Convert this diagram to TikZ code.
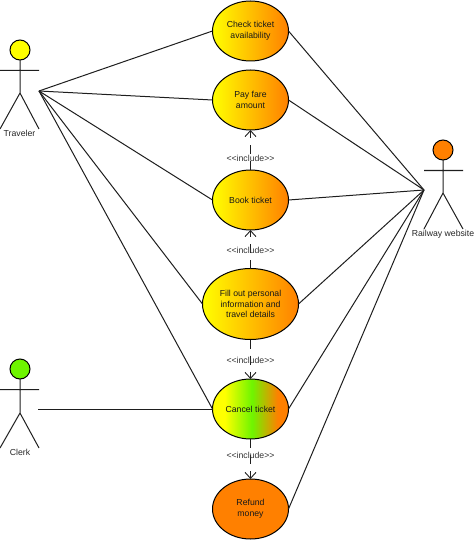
\documentclass[tikz,border=0pt]{standalone}
\usepackage{fontspec}
\setmainfont{Liberation Sans}
\usetikzlibrary{shapes.geometric,arrows.meta}
\definecolor{ucyellow}{RGB}{255,255,0}
\definecolor{ucorange}{RGB}{255,128,0}
\definecolor{ucgreen}{RGB}{110,245,0}
\definecolor{inkline}{RGB}{30,30,30}
\pgfdeclarehorizontalshading{cancelgrad}{100bp}{color(0bp)=(ucyellow); color(33bp)=(ucyellow); color(51bp)=(ucgreen); color(68bp)=(ucorange); color(100bp)=(ucorange)}
\tikzset{
  x=1pt,y=-1pt,
  usecase/.style={ellipse,draw=black,line width=1pt,inner sep=0pt,outer sep=0pt,minimum width=76pt,minimum height=60pt,
    font=\fontsize{8.7}{10.8}\selectfont,align=center,text=black!90},
  gradfill/.style={left color=ucyellow,right color=ucorange},
  head/.style={circle,draw=black,line width=1pt,minimum size=20pt,inner sep=0pt,outer sep=0pt},
  limb/.style={draw=inkline,line width=1pt},
  assoc/.style={draw=inkline,line width=1pt},
  incl/.style={draw=inkline,line width=0.9pt,dash pattern=on 9pt off 7pt,-{Straight Barb[length=6pt,width=11pt,line width=0.9pt]}},
  incltext/.style={font=\fontsize{8.7}{10}\selectfont,text=black!80,inner sep=0pt},
  actortext/.style={font=\fontsize{8.7}{10}\selectfont,text=black!85,inner sep=0pt,anchor=north},
}
\begin{document}
\begin{tikzpicture}
\useasboundingbox (0,0) rectangle (474,540);
% use cases
\node[usecase,gradfill] (check) at (250.5,31) {Check ticket\\availability};
\node[usecase,gradfill] (pay) at (250.5,100) {Pay fare\\amount};
\node[usecase,gradfill] (book) at (250.5,200) {Book ticket};
\node[usecase,gradfill,minimum width=96pt,minimum height=71pt] (fill) at (250.5,304) {Fill out personal\\information and\\travel details};
\node[usecase,shading=cancelgrad,shading angle=0] (cancel) at (250.5,409) {Cancel ticket};
\node[usecase,fill=ucorange] (refund) at (250.5,509) {Refund\\money};
% actors
\node[head,fill=ucyellow] (thead) at (20,50) {};
\coordinate (tl) at (0,70.5); \coordinate (tr) at (39,70.5);
\coordinate (thip) at (20,93); \coordinate (tfl) at (0,129); \coordinate (tfr) at (39,129);
\draw[limb] (thead) -- (thip) (tl) -- (tr) (tfl) -- (thip) -- (tfr);
\node[actortext] (tname) at (19.5,130) {Traveler};
\node[head,fill=ucorange] (rhead) at (443,150) {};
\coordinate (rl) at (424,170.5); \coordinate (rr) at (463,170.5);
\coordinate (rhip) at (443,193); \coordinate (rfl) at (424,229); \coordinate (rfr) at (463,229);
\draw[limb] (rhead) -- (rhip) (rl) -- (rr) (rfl) -- (rhip) -- (rfr);
\node[actortext] (rname) at (443,230) {Railway website};
\node[head,fill=ucgreen] (chead) at (20,369) {};
\coordinate (cl) at (0,389.5); \coordinate (cr) at (39,389.5);
\coordinate (chip) at (20,413); \coordinate (cfl) at (0,448); \coordinate (cfr) at (39,448);
\draw[limb] (chead) -- (chip) (cl) -- (cr) (cfl) -- (chip) -- (cfr);
\node[actortext] (cname) at (20,449) {Clerk};
% association hubs
\coordinate (thub) at (39,91);
\coordinate (rhub) at (424,190);
\coordinate (chub) at (38,409);
\foreach \t in {check,pay,book,fill,cancel}{\draw[assoc] (thub) -- (\t.west);}
\foreach \t in {check,pay,book,fill,cancel,refund}{\draw[assoc] (rhub) -- (\t.east);}
\draw[assoc] (chub) -- (cancel.west);
% includes
\draw[incl] (book.north) -- (pay.south);
\draw[incl] (fill.north) -- (book.south);
\draw[incl] (fill.south) -- (cancel.north);
\draw[incl] (cancel.south) -- (refund.north);
\node[incltext] (i1) at (250.5,158) {<{}<include>{}>};
\node[incltext] (i2) at (250.5,250) {<{}<include>{}>};
\node[incltext] (i3) at (250.5,360) {<{}<include>{}>};
\node[incltext] (i4) at (250.5,455.5) {<{}<include>{}>};
\end{tikzpicture}
\end{document}
